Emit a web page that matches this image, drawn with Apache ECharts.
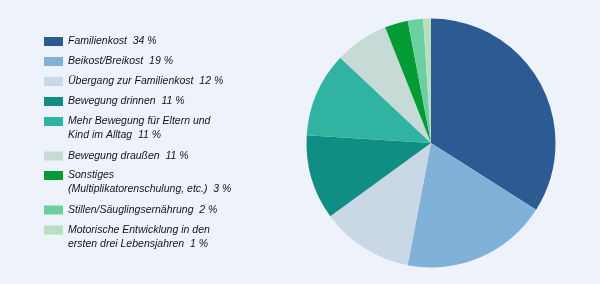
<!DOCTYPE html>
<html>
<head>
<meta charset="utf-8">
<script src="https://cdn.jsdelivr.net/npm/echarts@6/dist/echarts.min.js"></script>
<style>
html,body{margin:0;padding:0;background:#eef3fb;}
#c{width:600px;height:284px;}
</style>
</head>
<body>
<div id="c"></div>
<script>
// Data
var categories = [
  'Familienkost',
  'Beikost/Breikost',
  'Übergang zur Familienkost',
  'Bewegung drinnen',
  'Mehr Bewegung für Eltern und\nKind im Alltag',
  'Bewegung draußen',
  'Sonstiges\n(Multiplikatorenschulung, etc.)',
  'Stillen/Säuglingsernährung',
  'Motorische Entwicklung in den\nersten drei Lebensjahren'
];
var sliceValues = [34, 19, 12, 11, 11, 7, 3, 2, 1];
var legendPercents = [34, 19, 12, 11, 11, 11, 3, 2, 1];
var colors = ['#2c5b93', '#7fb1d9', '#cad7e5', '#118e84', '#31b3a2', '#c6dbd6', '#049a34', '#6ccf9f', '#b9dfc1'];

// legend row centres (first line), style only
var rowY = [41.5, 61.5, 81.5, 101.5, 121.5, 156, 175.5, 210, 230];

var chart = echarts.init(document.getElementById('c'), null, {renderer: 'canvas'});

var legends = categories.map(function (name, i) {
  var multi = name.indexOf('\n') >= 0;
  return {
    data: [name],
    orient: 'vertical',
    left: 44,
    top: multi ? rowY[i] - 21 : rowY[i] - 7,
    padding: 0,
    itemWidth: 19,
    itemHeight: 9,
    itemGap: 6,
    icon: 'rect',
    selectedMode: false,
    textStyle: {
      fontFamily: 'Liberation Sans',
      fontStyle: 'italic',
      fontSize: 10.5,
      lineHeight: 14,
      color: '#141414'
    },
    formatter: function (n) {
      var idx = categories.indexOf(n);
      var txt = n + '  ' + legendPercents[idx] + ' %';
      return (n.indexOf('\n') >= 0 ? '\n' : '') + txt;
    }
  };
});

chart.setOption({
  backgroundColor: '#eef3fb',
  animation: false,
  color: colors,
  legend: legends,
  series: [{
    type: 'pie',
    center: [431, 143],
    radius: 124.5,
    startAngle: 90,
    clockwise: true,
    label: {show: false},
    labelLine: {show: false},
    emphasis: {disabled: true},
    itemStyle: {borderWidth: 0},
    data: categories.map(function (n, i) {
      return {name: n, value: sliceValues[i]};
    })
  }]
});
</script>
</body>
</html>
